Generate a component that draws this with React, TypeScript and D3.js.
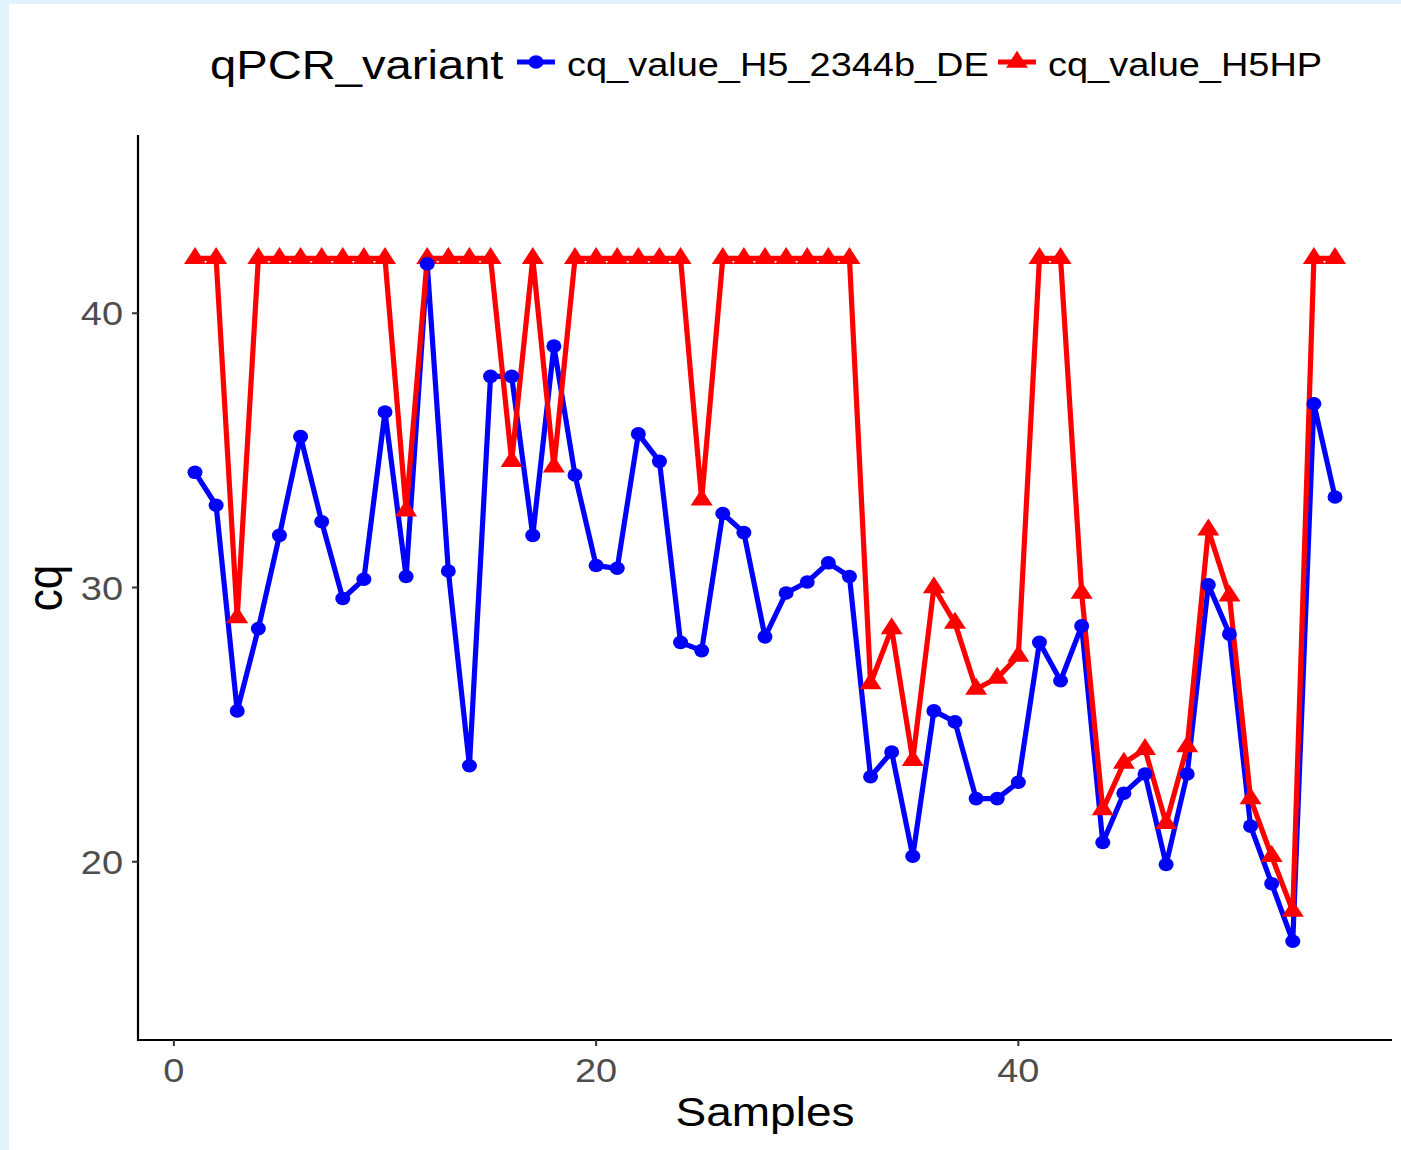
import React from "react";
import * as d3 from "d3";

// Sample index (1..55)
const samples: number[] = [
  1, 2, 3, 4, 5, 6, 7, 8, 9, 10, 11, 12, 13, 14, 15, 16, 17, 18, 19, 20,
  21, 22, 23, 24, 25, 26, 27, 28, 29, 30, 31, 32, 33, 34, 35, 36, 37, 38, 39, 40,
  41, 42, 43, 44, 45, 46, 47, 48, 49, 50, 51, 52, 53, 54, 55,
];

const cqH5_2344b_DE: number[] = [
  34.2, 33.0, 25.5, 28.5, 31.9, 35.5, 32.4, 29.6, 30.3, 36.4,
  30.4, 41.8, 30.6, 23.5, 37.7, 37.7, 31.9, 38.8, 34.1, 30.8,
  30.7, 35.6, 34.6, 28.0, 27.7, 32.7, 32.0, 28.2, 29.8, 30.2,
  30.9, 30.4, 23.1, 24.0, 20.2, 25.5, 25.1, 22.3, 22.3, 22.9,
  28.0, 26.6, 28.6, 20.7, 22.5, 23.2, 19.9, 23.2, 30.1, 28.3,
  21.3, 19.2, 17.1, 36.7, 33.3,
];

const cqH5HP: number[] = [
  42, 42, 28.9, 42, 42, 42, 42, 42, 42, 42,
  32.8, 42, 42, 42, 42, 34.6, 42, 34.4, 42, 42,
  42, 42, 42, 42, 33.2, 42, 42, 42, 42, 42,
  42, 42, 26.5, 28.5, 23.7, 30.0, 28.7, 26.3, 26.7, 27.5,
  42, 42, 29.8, 21.9, 23.6, 24.1, 21.4, 24.2, 32.1, 29.7,
  22.3, 20.2, 18.2, 42, 42,
];

const seriesNames: string[] = ["cq_value_H5_2344b_DE", "cq_value_H5HP"];
const seriesColors: string[] = ["#0000FF", "#FF0000"];
const xTicks: number[] = [0, 20, 40];
const yTicks: number[] = [20, 30, 40];
const legendTitle = "qPCR_variant";
const xTitle = "Samples";
const yTitle = "cq";

const W = 1401;
const H = 1150;
const SX = 1.15; // horizontal text stretch seen in the reference
const FONT = "'Liberation Sans', Arial, Helvetica, sans-serif";

function triPath(cx: number, cy: number, w: number, h: number): string {
  // centroid at (cx, cy)
  const top = cy - (2 * h) / 3;
  const bot = cy + h / 3;
  return `M${cx},${top}L${cx + w / 2},${bot}L${cx - w / 2},${bot}Z`;
}

export default function App() {
  const x = d3.scaleLinear().domain([-1.7, 57.7]).range([138, 1392]);
  const y = d3.scaleLinear().domain([13.5, 46.5]).range([1040, 135]);

  const line = d3
    .line<number>()
    .x((_, i) => x(samples[i]))
    .y((d) => y(d));

  const blue = seriesColors[0];
  const red = seriesColors[1];
  const lw = 5.2;

  return (
    <div style={{ position: "absolute", left: 0, top: 0, width: W, height: H }}>
      <svg width={W} height={H} style={{ display: "block" }}>
        <rect x={0} y={0} width={W} height={H} fill="#e2f3fb" />
        <rect x={9} y={4} width={W - 9} height={H - 4} fill="#ffffff" />

        {/* axes */}
        <line x1={138} x2={138} y1={y(46.5)} y2={y(13.5) + 1} stroke="#000" strokeWidth={2.2} />
        <line x1={137} x2={x(57.7)} y1={y(13.5)} y2={y(13.5)} stroke="#000" strokeWidth={2.2} />

        {yTicks.map((t) => (
          <g key={"yt" + t}>
            <line x1={132} x2={138} y1={y(t)} y2={y(t)} stroke="#333" strokeWidth={2} />
            <text
              transform={`translate(123,${y(t) + 12}) scale(${SX},1)`}
              textAnchor="end"
              fontFamily={FONT}
              fontSize={33}
              fill="#4d4d4d"
            >
              {t}
            </text>
          </g>
        ))}
        {xTicks.map((t) => (
          <g key={"xt" + t}>
            <line x1={x(t)} x2={x(t)} y1={1040} y2={1046} stroke="#333" strokeWidth={2} />
            <text
              transform={`translate(${x(t)},1082) scale(${SX},1)`}
              textAnchor="middle"
              fontFamily={FONT}
              fontSize={33}
              fill="#4d4d4d"
            >
              {t}
            </text>
          </g>
        ))}

        {/* axis titles */}
        <text
          transform={`translate(765,1126) scale(${SX},1)`}
          textAnchor="middle"
          fontFamily={FONT}
          fontSize={40}
          fill="#000"
        >
          {xTitle}
        </text>
        <text
          transform={`translate(62,588) scale(${SX},1) rotate(-90)`}
          textAnchor="middle"
          fontFamily={FONT}
          fontSize={44}
          fill="#000"
        >
          {yTitle}
        </text>

        {/* lines */}
        <path d={line(cqH5_2344b_DE) || ""} fill="none" stroke={blue} strokeWidth={lw} strokeLinejoin="round" />
        <path d={line(cqH5HP) || ""} fill="none" stroke={red} strokeWidth={lw} strokeLinejoin="round" />

        {/* points */}
        {cqH5HP.map((v, i) => (
          <path key={"r" + i} d={triPath(x(samples[i]), y(v), 22, 17)} fill={red} />
        ))}
        {cqH5_2344b_DE.map((v, i) => (
          <ellipse key={"b" + i} cx={x(samples[i])} cy={y(v)} rx={7.5} ry={6.8} fill={blue} />
        ))}

        {/* legend */}
        <text
          transform={`translate(210,79) scale(${SX},1)`}
          fontFamily={FONT}
          fontSize={41}
          fill="#000"
        >
          {legendTitle}
        </text>
        <line x1={517} x2={555} y1={62} y2={62} stroke={blue} strokeWidth={lw} />
        <ellipse cx={536} cy={62} rx={7.5} ry={6.8} fill={blue} />
        <text
          transform={`translate(567,76) scale(${SX},1)`}
          fontFamily={FONT}
          fontSize={33}
          fill="#000"
        >
          {seriesNames[0]}
        </text>
        <line x1={998} x2={1036} y1={62} y2={62} stroke={red} strokeWidth={lw} />
        <path d={triPath(1017, 62, 22, 17)} fill={red} />
        <text
          transform={`translate(1048,76) scale(${SX},1)`}
          fontFamily={FONT}
          fontSize={33}
          fill="#000"
        >
          {seriesNames[1]}
        </text>
      </svg>
    </div>
  );
}
